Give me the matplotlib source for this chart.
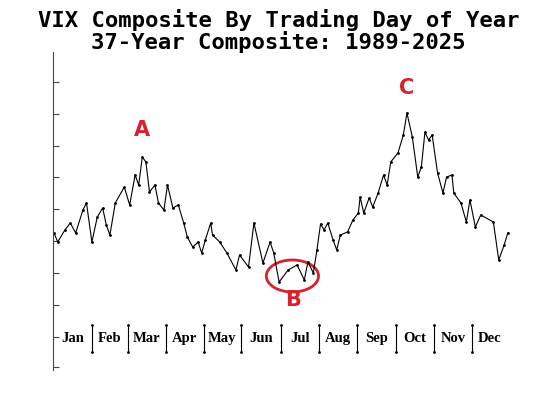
import matplotlib
matplotlib.use("Agg")
import matplotlib.pyplot as plt
from matplotlib.patches import Ellipse

# trading day of year and composite level (arbitrary units)
days = [0, 2, 6, 9, 12, 16, 18, 21, 24, 27, 29, 31, 34, 39, 42, 45, 47, 49, 51, 53,
        56, 58, 61, 63, 66, 69, 72, 74, 77, 80, 82, 84, 87, 88, 92, 96, 101, 103, 108, 111,
        116, 120, 122, 125, 130, 135, 139, 141, 144, 146, 148, 150, 152, 155, 157, 159, 163, 166, 169, 170,
        172, 175, 177, 180, 183, 185, 187, 191, 194, 196, 199, 202, 204, 206, 208, 210, 213, 216, 218, 221,
        222, 226, 229, 231, 234, 237, 244, 247, 250, 252]
ypix = [233, 242, 230, 223, 233, 210, 203, 242, 217, 208, 225, 235, 203, 187, 205, 175, 185, 157, 162, 192,
        185, 203, 210, 185, 208, 205, 223, 237, 247, 242, 253, 240, 223, 235, 242, 253, 270, 255, 267, 223,
        263, 242, 253, 282, 270, 265, 280, 262, 273, 250, 224, 230, 223, 240, 250, 235, 232, 220, 213, 197,
        213, 198, 207, 193, 175, 185, 162, 153, 135, 113, 137, 177, 167, 132, 140, 135, 173, 193, 177, 175,
        193, 203, 222, 200, 227, 215, 222, 260, 245, 233]
values = [370 - y for y in ypix]

months = ["Jan", "Feb", "Mar", "Apr", "May", "Jun", "Jul", "Aug", "Sep", "Oct", "Nov", "Dec"]
month_edges = [-0.5, 21, 41, 62, 83, 104, 126, 147, 168, 190, 211, 232, 252]
yticks = [288, 256, 224, 193, 161, 129, 97, 65, 33, 3]

RED = "#d7222e"

fig = plt.figure(figsize=(5.51, 4.11), dpi=100)
ax = fig.add_axes([53 / 551, 41 / 411, 467 / 551, 318 / 411])
ax.plot(days, values, color="black", lw=0.8, marker=".", ms=2)

ax.set_xlim(-0.6, 258.8)
ax.set_ylim(0, 318)
for s in ["top", "right", "bottom"]:
    ax.spines[s].set_visible(False)
ax.spines["left"].set_color("#444444")
ax.set_xticks([])
ax.set_yticks(yticks)
ax.set_yticklabels([])
ax.tick_params(axis="y", direction="in", length=4, color="#444444")

# month labels with separators
for i, m in enumerate(months):
    mid = (month_edges[i] + month_edges[i + 1]) / 2
    ax.text(mid, 32, m, ha="center", va="center", family="Liberation Serif",
            fontweight="bold", fontsize=10.5)
for e in month_edges[1:-1]:
    ax.plot([e, e], [18, 45], color="black", lw=0.8, marker=".", ms=2)

# annotations
ax.text(49, 240, "A", color=RED, fontsize=15, fontweight="bold", ha="center", va="center")
ax.text(133, 70, "B", color=RED, fontsize=15, fontweight="bold", ha="center", va="center")
ax.text(196, 282, "C", color=RED, fontsize=15, fontweight="bold", ha="center", va="center")
ax.add_patch(Ellipse((132.4, 94), 29, 32, fill=False, edgecolor=RED, lw=2))

fig.text(0.505, 1 - 20 / 411, "VIX Composite By Trading Day of Year", ha="center", va="center",
         family="DejaVu Sans Mono", fontweight="bold", fontsize=16)
fig.text(0.505, 1 - 42 / 411, "37-Year Composite: 1989-2025", ha="center", va="center",
         family="DejaVu Sans Mono", fontweight="bold", fontsize=16)

fig.savefig("out.png", dpi=100)
